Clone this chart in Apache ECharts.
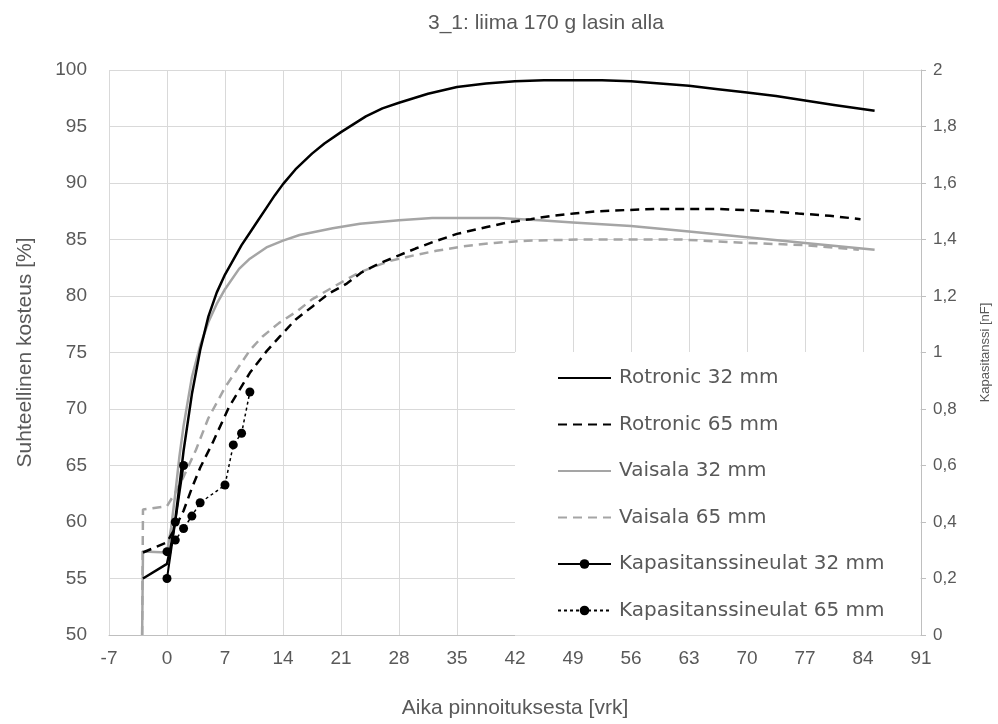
<!DOCTYPE html>
<html>
<head>
<meta charset="utf-8">
<script src="https://cdn.jsdelivr.net/npm/echarts@6/dist/echarts.min.js"></script>
<style>
html,body{margin:0;padding:0;background:#fff;}
#chart{width:998px;height:724px;}
</style>
</head>
<body>
<div id="chart"></div>
<script>
// ---- data ----
const xTicks = [-7, 0, 7, 14, 21, 28, 35, 42, 49, 56, 63, 70, 77, 84, 91];

const rotronic32Days = [-2.9, 0, 0.5, 1, 1.5, 2, 3, 4, 5, 6, 7, 8, 9, 10, 11, 12, 13, 14, 15.5, 17.5, 19, 21, 24, 26, 28, 31.5, 35, 38.5, 42, 45.5, 49, 52.5, 56, 59.5, 63, 66.5, 70, 73.5, 77, 80.5, 85.4];
const rotronic32Vals = [55.0, 56.3, 58.0, 60.2, 63.2, 66.3, 71.3, 75.2, 78.2, 80.3, 81.9, 83.2, 84.5, 85.6, 86.7, 87.8, 88.9, 89.9, 91.2, 92.6, 93.5, 94.5, 95.9, 96.6, 97.1, 97.9, 98.5, 98.8, 99.0, 99.1, 99.1, 99.1, 99.0, 98.8, 98.6, 98.3, 98.0, 97.7, 97.3, 96.9, 96.4];

const rotronic65Days = [-2.9, 0, 1, 2, 3, 4, 5.5, 7.5, 10, 12, 13.6, 15.5, 17.6, 19.5, 21.7, 23.5, 25.7, 28, 30, 32.2, 35, 38.6, 41, 43.9, 46.5, 49.1, 52, 55.2, 59, 63.3, 66.5, 70, 73, 76.2, 80, 83.7];
const rotronic65Vals = [57.3, 58.2, 59.5, 61.0, 63.0, 64.8, 67.0, 70.2, 73.2, 75.1, 76.4, 77.9, 79.1, 80.2, 81.1, 82.1, 82.9, 83.6, 84.2, 84.8, 85.5, 86.1, 86.5, 86.8, 87.1, 87.3, 87.5, 87.6, 87.7, 87.7, 87.7, 87.6, 87.5, 87.3, 87.1, 86.8];

const vaisala32Days = [-3, -2.9, 0, 0.5, 1, 1.5, 2, 3, 4, 5, 6, 7, 8.7, 10, 12, 14, 16, 20, 23.3, 28, 32, 36, 40, 45, 49, 56, 63, 70, 77, 85.4];
const vaisala32Vals = [50.0, 57.4, 57.3, 59.5, 62.5, 65.8, 68.5, 72.8, 75.6, 77.7, 79.3, 80.6, 82.4, 83.3, 84.3, 84.9, 85.4, 86.0, 86.4, 86.7, 86.9, 86.9, 86.9, 86.7, 86.5, 86.2, 85.7, 85.2, 84.7, 84.1];

const vaisala65Days = [-3, -2.9, 0, 1, 2, 3.5, 5, 7, 8, 10, 11.5, 13.5, 15.6, 17.5, 19.6, 21.5, 23, 25, 26.9, 29.8, 32.5, 35.8, 39.5, 43.5, 50, 56, 62, 70, 77, 83.5];
const vaisala65Vals = [50.0, 61.1, 61.4, 62.6, 64.0, 66.4, 69.2, 71.9, 73.0, 75.2, 76.4, 77.6, 78.6, 79.7, 80.6, 81.4, 82.0, 82.6, 83.1, 83.6, 84.0, 84.4, 84.7, 84.9, 85.0, 85.0, 85.0, 84.7, 84.5, 84.1];

const kap32Days = [0, 1, 2];
const kap32Vals = [0.2, 0.4, 0.6];

const kap65Days = [0, 1, 2, 3, 4, 7, 8, 9, 10];
const kap65Vals = [0.295, 0.336, 0.377, 0.421, 0.468, 0.531, 0.673, 0.714, 0.86];

const seriesNames = ['Rotronic 32 mm', 'Rotronic 65 mm', 'Vaisala 32 mm', 'Vaisala 65 mm', 'Kapasitanssineulat 32 mm', 'Kapasitanssineulat 65 mm'];

// ---- build ----
const zip = (xs, ys) => xs.map((x, i) => [x, ys[i]]);
const TXT = '#595959';
const GRID = '#d9d9d9';
const GREY = '#a5a5a5';
const FONT = '"Liberation Sans", sans-serif';

const legendData = seriesNames.map((n, i) => i < 4 ? {name: n, itemStyle: {opacity: 0}} : {name: n});

const chart = echarts.init(document.getElementById('chart'), null, {renderer: 'canvas'});
chart.setOption({
  animation: false,
  backgroundColor: '#fff',
  title: {
    text: '3_1: liima 170 g lasin alla',
    left: 428, top: 13, padding: 0,
    textStyle: {color: TXT, fontSize: 21, fontWeight: 'normal', fontFamily: FONT}
  },
  grid: {left: 109, right: 77, top: 70, bottom: 89, containLabel: false, outerBoundsMode: 'none'},
  legend: {
    orient: 'vertical',
    left: 515, top: 352,
    padding: [16, 36, 15, 42],
    backgroundColor: '#fff',
    itemWidth: 53, itemHeight: 12,
    itemGap: 26.5,
    data: legendData,
    textStyle: {color: TXT, fontSize: 20, fontFamily: '"DejaVu Sans", sans-serif', padding: [0, 0, 0, 3]}
  },
  xAxis: {
    type: 'value', min: -7, max: 91, interval: 7,
    name: 'Aika pinnoituksesta [vrk]', nameLocation: 'middle', nameGap: 63,
    nameTextStyle: {color: TXT, fontSize: 21, fontFamily: FONT},
    axisLine: {show: true, lineStyle: {color: '#bfbfbf'}},
    axisTick: {show: false},
    axisLabel: {color: TXT, fontSize: 19, fontFamily: FONT, margin: 14,
      formatter: v => xTicks.includes(v) ? String(v) : ''},
    splitLine: {show: true, lineStyle: {color: GRID, width: 1}}
  },
  yAxis: [{
    type: 'value', min: 50, max: 100, interval: 5, position: 'left',
    name: 'Suhteellinen kosteus [%]', nameLocation: 'middle', nameGap: 73,
    nameTextStyle: {color: TXT, fontSize: 21, fontFamily: FONT},
    axisLine: {show: false}, axisTick: {show: false},
    axisLabel: {color: TXT, fontSize: 19, fontFamily: FONT, margin: 22},
    splitLine: {show: true, lineStyle: {color: GRID, width: 1}}
  }, {
    type: 'value', min: 0, max: 2, interval: 0.2, position: 'right',
    name: 'Kapasitanssi [nF]', nameLocation: 'middle', nameGap: 58,
    nameTextStyle: {color: TXT, fontSize: 13, fontFamily: FONT},
    axisLine: {show: true, lineStyle: {color: '#bfbfbf'}},
    axisTick: {show: true, length: 5, lineStyle: {color: '#bfbfbf'}},
    axisLabel: {color: TXT, fontSize: 17, fontFamily: FONT, margin: 12,
      formatter: v => String(Math.round(v * 10) / 10).replace('.', ',')},
    splitLine: {show: false}
  }],
  series: [
    {name: seriesNames[0], type: 'line', data: zip(rotronic32Days, rotronic32Vals), symbol: 'none',
      lineStyle: {color: '#000', width: 2.5, join: 'round'}, itemStyle: {color: '#000'}, z: 5},
    {name: seriesNames[1], type: 'line', data: zip(rotronic65Days, rotronic65Vals), symbol: 'none',
      lineStyle: {color: '#000', width: 2.5, type: [9, 6]}, itemStyle: {color: '#000'}, z: 4},
    {name: seriesNames[2], type: 'line', data: zip(vaisala32Days, vaisala32Vals), symbol: 'none',
      lineStyle: {color: GREY, width: 2.5, join: 'round'}, itemStyle: {color: GREY}, z: 3},
    {name: seriesNames[3], type: 'line', data: zip(vaisala65Days, vaisala65Vals), symbol: 'none',
      lineStyle: {color: GREY, width: 2.5, type: [9, 6]}, itemStyle: {color: GREY}, z: 3},
    {name: seriesNames[4], type: 'line', yAxisIndex: 1, data: zip(kap32Days, kap32Vals),
      symbol: 'circle', symbolSize: 9, lineStyle: {color: '#000', width: 2}, itemStyle: {color: '#000'}, z: 6},
    {name: seriesNames[5], type: 'line', yAxisIndex: 1, data: zip(kap65Days, kap65Vals),
      symbol: 'circle', symbolSize: 9, lineStyle: {color: '#000', width: 1.5, type: [3, 3]}, itemStyle: {color: '#000'}, z: 6}
  ]
});
</script>
</body>
</html>
